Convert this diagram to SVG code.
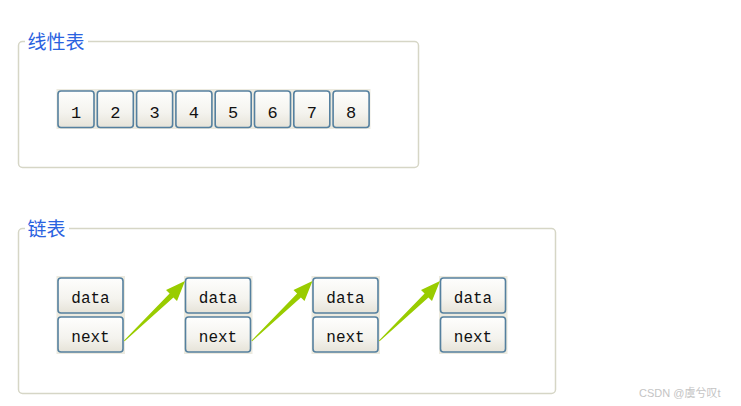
<svg xmlns="http://www.w3.org/2000/svg" width="741" height="406" viewBox="0 0 741 406">
<defs>
<linearGradient id="btn" x1="0" y1="0" x2="0" y2="1">
<stop offset="0" stop-color="#fefefd"/>
<stop offset="0.6" stop-color="#f4f3ee"/>
<stop offset="1" stop-color="#e6e3d8"/>
</linearGradient>
<polygon id="arr" points="124,340.6 169.6,293.6 166,290 185,281 177,301 173.4,297.4 124.6,341.2"/>
</defs>
<style>
.frame{fill:none;stroke:#d6d6c6;stroke-width:1.5}
.gap{fill:#ffffff}
.legend{font-family:"Noto Sans CJK SC","Noto Sans",sans-serif;font-size:19px;fill:#2a62e0}
.strip{fill:#eceadf}
.btn{fill:url(#btn);stroke:#55809f;stroke-width:1.6}
.lbl{font-family:"Liberation Mono","DejaVu Sans Mono",monospace;font-size:16px;fill:#111;text-anchor:middle}
.num{font-size:17px}
.arrow{fill:#99cc00}
.wm{font-family:"Liberation Sans","Noto Sans CJK SC",sans-serif;font-size:11px;fill:#c4c4c4}
</style>
<rect width="741" height="406" fill="#ffffff"/>

<g id="linear-frame">
<rect class="frame" x="18.5" y="41.5" width="400" height="126" rx="4"/>
<rect class="gap" x="25" y="38" width="63" height="8"/>
<text class="legend" x="27.5" y="48.5">线性表</text>
</g>

<g id="linear-list">
<rect class="strip" x="56.5" y="89" width="314" height="40"/>
<g id="n1"><rect class="btn" x="58" y="91" width="36" height="36.5" rx="3"/><text class="lbl num" x="76" y="117.5">1</text></g>
<g id="n2"><rect class="btn" x="97.3" y="91" width="36" height="36.5" rx="3"/><text class="lbl num" x="115.3" y="117.5">2</text></g>
<g id="n3"><rect class="btn" x="136.6" y="91" width="36" height="36.5" rx="3"/><text class="lbl num" x="154.6" y="117.5">3</text></g>
<g id="n4"><rect class="btn" x="175.9" y="91" width="36" height="36.5" rx="3"/><text class="lbl num" x="193.9" y="117.5">4</text></g>
<g id="n5"><rect class="btn" x="215.2" y="91" width="36" height="36.5" rx="3"/><text class="lbl num" x="233.2" y="117.5">5</text></g>
<g id="n6"><rect class="btn" x="254.5" y="91" width="36" height="36.5" rx="3"/><text class="lbl num" x="272.5" y="117.5">6</text></g>
<g id="n7"><rect class="btn" x="293.8" y="91" width="36" height="36.5" rx="3"/><text class="lbl num" x="311.8" y="117.5">7</text></g>
<g id="n8"><rect class="btn" x="333.1" y="91" width="36" height="36.5" rx="3"/><text class="lbl num" x="351.1" y="117.5">8</text></g>
</g>

<g id="linked-frame">
<rect class="frame" x="18.5" y="228.5" width="537" height="165" rx="4"/>
<rect class="gap" x="25" y="225" width="44" height="8"/>
<text class="legend" x="27.5" y="235.5">链表</text>
</g>

<g id="node1">
<rect class="strip" x="56.5" y="276" width="68.5" height="78"/>
<rect class="btn" x="58" y="278" width="65" height="35" rx="3"/><text class="lbl" x="90.5" y="303">data</text>
<rect class="btn" x="58" y="317" width="65" height="35" rx="3"/><text class="lbl" x="90.5" y="342">next</text>
</g>
<g id="node2">
<rect class="strip" x="184" y="276" width="68.5" height="78"/>
<rect class="btn" x="185.5" y="278" width="65" height="35" rx="3"/><text class="lbl" x="218" y="303">data</text>
<rect class="btn" x="185.5" y="317" width="65" height="35" rx="3"/><text class="lbl" x="218" y="342">next</text>
</g>
<g id="node3">
<rect class="strip" x="311.5" y="276" width="68.5" height="78"/>
<rect class="btn" x="313" y="278" width="65" height="35" rx="3"/><text class="lbl" x="345.5" y="303">data</text>
<rect class="btn" x="313" y="317" width="65" height="35" rx="3"/><text class="lbl" x="345.5" y="342">next</text>
</g>
<g id="node4">
<rect class="strip" x="439" y="276" width="68.5" height="78"/>
<rect class="btn" x="440.5" y="278" width="65" height="35" rx="3"/><text class="lbl" x="473" y="303">data</text>
<rect class="btn" x="440.5" y="317" width="65" height="35" rx="3"/><text class="lbl" x="473" y="342">next</text>
</g>

<g id="connectors">
<use href="#arr" class="arrow"/>
<use href="#arr" class="arrow" transform="translate(127.5,0)"/>
<use href="#arr" class="arrow" transform="translate(255,0)"/>
</g>

<text class="wm" x="639" y="397">CSDN @虞兮叹t</text>
</svg>
